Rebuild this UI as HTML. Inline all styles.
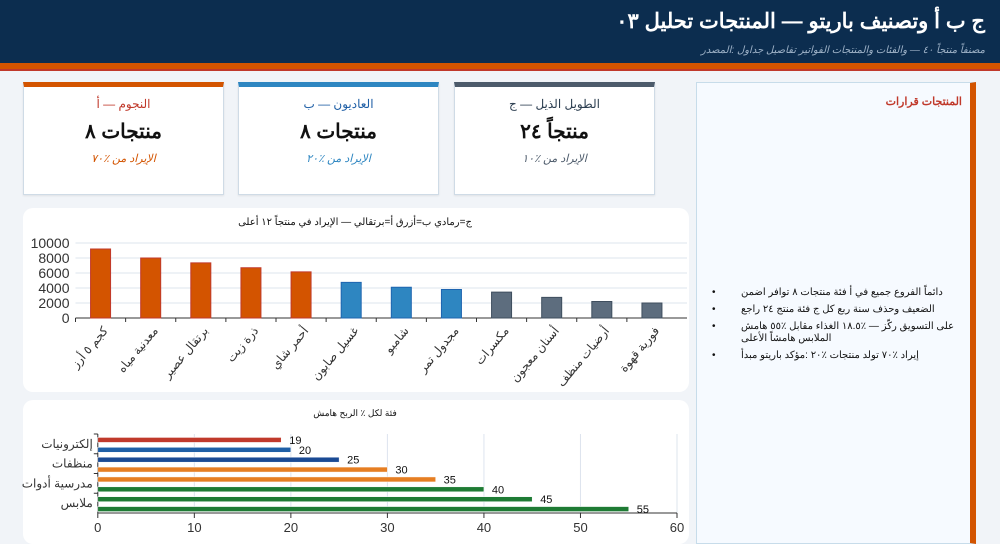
<!DOCTYPE html>
<html lang="ar"><head><meta charset="utf-8">
<style>
*{box-sizing:border-box;margin:0;padding:0}
body{width:1000px;height:544px;overflow:hidden;background:#f1f4f8;font-family:"Liberation Sans","Noto Sans CJK SC",sans-serif;position:relative}
#hdr{position:absolute;left:0;top:0;width:1000px;height:63px;background:#0c2d4f}
#hdr h1{position:absolute;right:15px;top:9px;color:#fff;font-size:21px;font-weight:bold;direction:rtl}
#hdr p{position:absolute;right:15px;top:45px;color:#9fb3c8;font-size:10px;font-style:italic;direction:rtl}
#stripe{position:absolute;left:0;top:63px;width:1000px;height:8px;background:#d35400;border-bottom:2px solid #c0392b}
.card{position:absolute;top:82px;width:201px;height:113px;background:#fff;border:1px solid #cfdbe6;border-top:5px solid;text-align:center;direction:rtl;box-shadow:0 1px 2px rgba(0,0,0,.08)}
.card .t{font-size:12px;margin-top:10px}
.card .v{font-size:20px;font-weight:bold;margin-top:8px;color:#111}
.card .s{font-size:11px;font-style:italic;margin-top:8px}
.panel{position:absolute;background:#fff;border-radius:10px}
#side{position:absolute;left:696px;top:82px;width:280px;height:462px;background:#f6faff;border:1px solid #c7dcea;border-right:6px solid #d35400}
#side h3{position:absolute;right:8px;top:12px;font-size:11px;color:#c0392b;direction:rtl}
#side ul{position:absolute;left:0;top:204px;width:262px;font-size:10px;color:#111;list-style:none;padding-left:44px}
#side li{margin-bottom:5px;line-height:12px;position:relative}
#side li::before{content:"•";position:absolute;left:-29px;top:0}
svg text{font-family:"Liberation Sans",sans-serif}
</style></head><body>
<div id="hdr">
<h1>ج ب أ وتصنيف باريتو — المنتجات تحليل ٠٣</h1>
<p>مصنفاً منتجاً ٤٠ — والفئات والمنتجات الفواتير تفاصيل جداول :المصدر</p>
</div>
<div id="stripe"></div>

<div class="card" style="left:23px;border-top-color:#d35400">
<div class="t" style="color:#c0392b">النجوم — أ</div><div class="v">منتجات ٨</div><div class="s" style="color:#d35400">الإيراد من ٪٧٠</div></div>
<div class="card" style="left:238px;border-top-color:#2e86c1">
<div class="t" style="color:#1f5fa6">العاديون — ب</div><div class="v">منتجات ٨</div><div class="s" style="color:#2e86c1">الإيراد من ٪٢٠</div></div>
<div class="card" style="left:454px;border-top-color:#4d5b6b">
<div class="t" style="color:#2c3e50">الطويل الذيل — ج</div><div class="v">منتجاً ٢٤</div><div class="s" style="color:#4d5b6b">الإيراد من ٪١٠</div></div>

<div class="panel" style="left:23px;top:208px;width:666px;height:184px"></div>
<div class="panel" style="left:23px;top:400px;width:666px;height:144px"></div>
<svg id="chart" width="1000" height="544" style="position:absolute;left:0;top:0"></svg>

<div id="side">
<h3>المنتجات قرارات</h3>
<ul>
<li>دائماً الفروع جميع في أ فئة منتجات ٨ توافر اضمن</li>
<li>الضعيف وحذف سنة ربع كل ج فئة منتج ٢٤ راجع</li>
<li>على التسويق ركّز — ٪١٨.٥ الغذاء مقابل ٪٥٥ هامش الملابس هامشاً الأعلى</li>
<li>إيراد ٪٧٠ تولد منتجات ٪٢٠ :مؤكد باريتو مبدأ</li>
</ul></div>

<script>
const products=["كجم ٥ أرز","معدنية مياه","برتقال عصير","ذرة زيت","أحمر شاي","غسيل صابون","شامبو","مجدول تمر","مكسرات","أسنان معجون","أرضيات منظف","فورية قهوة"];
const revenue=[9200,8000,7350,6700,6150,4750,4100,3800,3450,2750,2200,2000];
const classes=["A","A","A","A","A","B","B","B","C","C","C","C"];
const revTicks=[0,2000,4000,6000,8000,10000];
const marginCats=["إلكترونيات","منظفات","مدرسية أدوات","ملابس"];
const marginVals=[19,20,25,30,35,40,45,55];
const marginColors=["#c0392b","#1f5fa6","#1a4a94","#e67e22","#e67e22","#1e7b34","#1e7b34","#1e7b34"];
const marginTicks=[0,10,20,30,40,50,60];

const svg=document.getElementById('chart');
const NS='http://www.w3.org/2000/svg';
function mk(tag,at,txt){const e=document.createElementNS(NS,tag);for(const k in at)e.setAttribute(k,at[k]);if(txt!==undefined)e.textContent=txt;svg.appendChild(e);return e;}

const x0=75.5,x1=677,yb=318,yt=243;
const ys=v=>yb-(v/10000)*(yb-yt);
const slot=(x1-x0)/products.length;
let t=mk('text',{x:355,y:225,'font-size':10,'text-anchor':'middle',fill:'#111',direction:'rtl'},'ج=رمادي ب=أزرق أ=برتقالي — الإيراد في منتجاً ١٢ أعلى');

revTicks.forEach(v=>{
 let g=mk('line',{x1:x0,x2:x1+10,y1:ys(v),y2:ys(v),stroke:'#dde4ee'});
 
 let l=mk('text',{x:x0-6,y:ys(v)+5,'font-size':14,'text-anchor':'end',fill:'#333'},String(v));
 
});
let ax=mk('line',{x1:x0,x2:x1+10,y1:yb,y2:yb,stroke:'#333'});

const fillC={A:'#d35400',B:'#2e86c1',C:'#5d6d7e'},strokeC={A:'#c0392b',B:'#1f65b0',C:'#3f4e5e'};
products.forEach((p,i)=>{
 const cx=x0+slot*(i+0.5),bw=20;
 let b=mk('rect',{x:cx-bw/2,y:ys(revenue[i]),width:bw,height:yb-ys(revenue[i]),fill:fillC[classes[i]],stroke:strokeC[classes[i]],'stroke-width':1});
 
 let tk=mk('line',{x1:x0+slot*i,x2:x0+slot*i,y1:yb,y2:yb+4,stroke:'#333'});
 
 let l=mk('text',{x:cx+8,y:yb+13,'font-size':12,'text-anchor':'end',fill:'#333',transform:`rotate(-50 ${cx+8} ${yb+13})`},p);
 
});

const hx0=97.8,hx1=677,hyt=434,hyb=513;
const hx=v=>hx0+(v/60)*(hx1-hx0);
t=mk('text',{x:355,y:416,'font-size':9,'text-anchor':'middle',fill:'#111',direction:'rtl'},'فئة لكل ٪ الربح هامش');

marginTicks.forEach(v=>{
 let g=mk('line',{x1:hx(v),x2:hx(v),y1:hyt,y2:hyb,stroke:'#dde4ee'});
 
 let tk=mk('line',{x1:hx(v),x2:hx(v),y1:hyb,y2:hyb+5,stroke:'#333'});
 
 let l=mk('text',{x:hx(v),y:hyb+19,'font-size':13,'text-anchor':'middle',fill:'#333'},String(v));
 
});
let hax=mk('line',{x1:hx0,x2:hx1,y1:hyb,y2:hyb,stroke:'#333'});

let vax=mk('line',{x1:hx0,x2:hx0,y1:hyt,y2:hyb,stroke:'#333'});

const cs=(hyb-hyt)/marginCats.length;
marginCats.forEach((c,i)=>{
 let tk=mk('line',{x1:hx0-4,x2:hx0,y1:hyt+cs*i,y2:hyt+cs*i,stroke:'#333'});
 
 let l=mk('text',{x:hx0-5,y:hyt+cs*(i+0.5)+4,'font-size':12,'text-anchor':'end',fill:'#333'},c);
 
});
const bs=(hyb-hyt)/marginVals.length;
marginVals.forEach((v,i)=>{
 const cy=hyt+bs*(i+0.5)+1;
 let b=mk('rect',{x:hx0,y:cy-2.5,width:hx(v)-hx0,height:5,fill:marginColors[i],stroke:'#fff','stroke-width':0.5});
 
 let l=mk('text',{x:hx(v)+8,y:cy+4,'font-size':11,fill:'#111'},String(v));
 
});
</script>
</body></html>
